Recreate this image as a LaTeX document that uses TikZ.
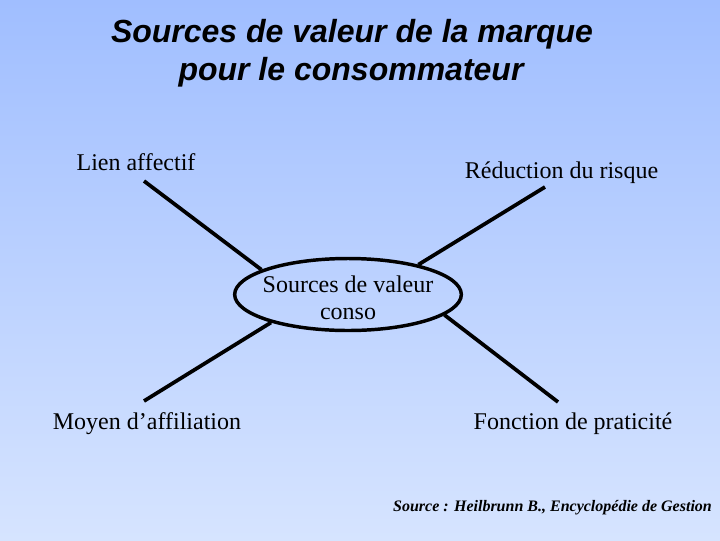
\documentclass[tikz,border=0pt]{standalone}
\usepackage{fontspec}
\setmainfont{Liberation Serif}
\newfontfamily\titlefont{Liberation Sans}
\usetikzlibrary{shapes.geometric}
\definecolor{bgtop}{RGB}{160,190,255}
\definecolor{bgbot}{RGB}{214,228,255}
\begin{document}
\begin{tikzpicture}[x=0.75pt,y=-0.75pt,
  lbl/.style={font=\fontsize{18}{20}\selectfont, anchor=base, inner sep=0pt},
  ttl/.style={font=\titlefont\bfseries\itshape\fontsize{24}{28}\selectfont, anchor=base, inner sep=0pt},
  link/.style={line width=2.8pt, black}]
\fill[top color=bgtop, bottom color=bgbot] (0,0) rectangle (720,540);
\useasboundingbox (0,0) rectangle (720,540);
% title
\node[ttl] (t1) at (352,42) {Sources de valeur de la marque};
\node[ttl] (t2) at (351,80) {pour le consommateur};
% centre
\node[draw, ellipse, line width=2.6pt, inner sep=0pt, minimum width=170pt, minimum height=54pt] (e) at (348,294.5) {};
\node[lbl] (e1) at (348,292) {Sources de valeur};
\node[lbl] (e2) at (348,319) {conso};
% labels
\node[lbl] (la) at (136,170) {Lien affectif};
\node[lbl] (lb) at (561.5,178) {Réduction du risque};
\node[lbl] (lc) at (147,429) {Moyen d’affiliation};
\node[lbl] (ld) at (573,429) {Fonction de praticité};
\node[font=\bfseries\itshape\fontsize{12}{14}\selectfont, anchor=base, inner sep=0pt] (src) at (552.5,511) {Source : Heilbrunn B., Encyclopédie de Gestion};
% connectors
\coordinate (pa) at (144,181);
\coordinate (pb) at (545,187);
\coordinate (pc) at (144,401);
\coordinate (pd) at (558,402);
\draw[link] (pa) -- (e.164);
\draw[link] (pb) -- (e.23);
\draw[link] (pc) -- (e.200);
\draw[link] (pd) -- (e.348);
\end{tikzpicture}
\end{document}
